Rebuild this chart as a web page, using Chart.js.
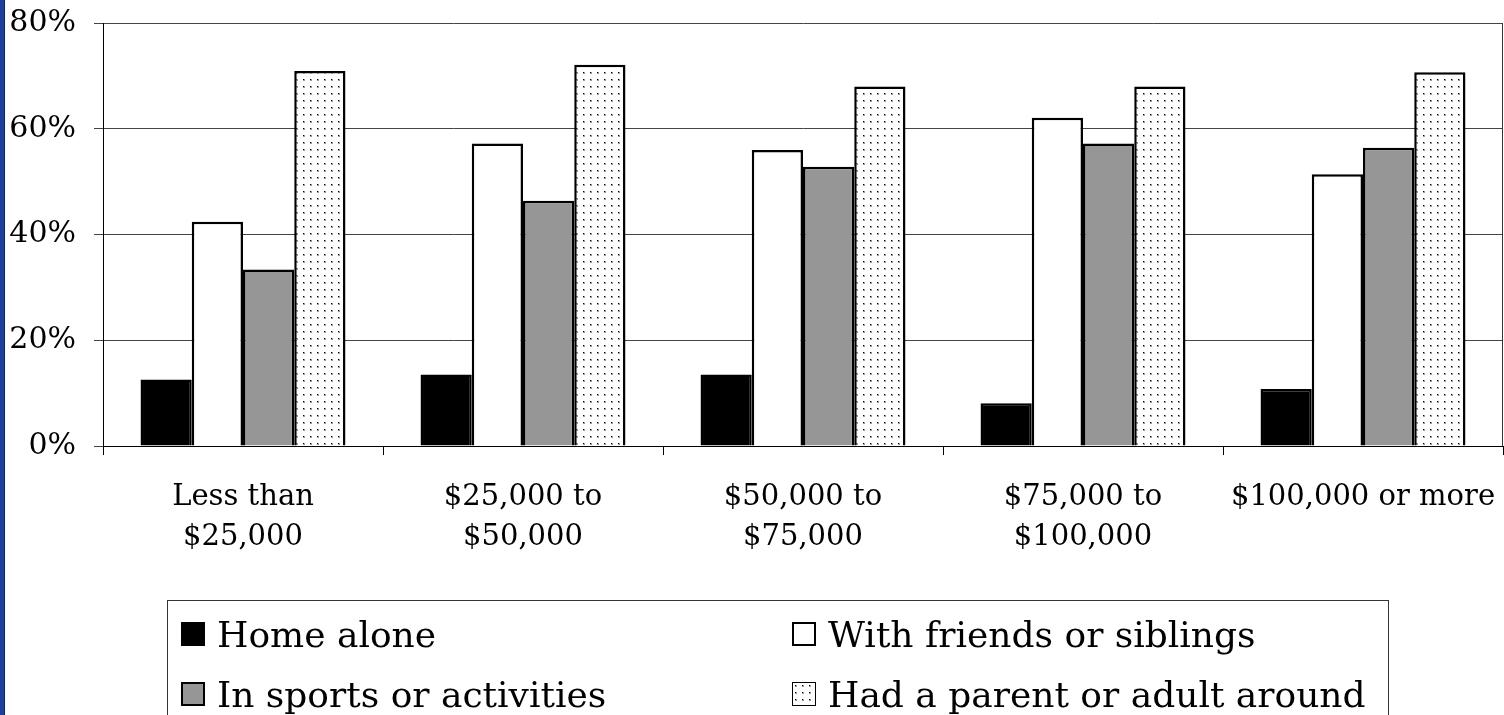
<!DOCTYPE html>
<html>
<head>
<meta charset="utf-8">
<script src="https://cdn.jsdelivr.net/npm/chart.js@4/dist/chart.umd.min.js"></script>
<style>
  html, body { margin: 0; padding: 0; background: #fff; }
  #wrap { position: relative; width: 1504px; height: 715px; overflow: hidden; }
  #edge { position: absolute; left: 0; top: 0; width: 4px; height: 715px; background: #1d3f9e; border-right: 1px solid #0c2370; }
  #legend {
    position: absolute; left: 167px; top: 600px; width: 1222px; height: 140px;
    border: 1px solid #333; box-sizing: border-box;
    font-family: "DejaVu Serif", serif; font-size: 36px; color: #000;
  }
  .item { position: absolute; display: flex; align-items: center; height: 40px; white-space: nowrap; }
  .sw { width: 24px; height: 24px; border: 2px solid #000; box-sizing: border-box; margin-right: 12px; }
</style>
</head>
<body>
<div id="wrap">
  <canvas id="grafico" width="1504" height="715"></canvas>
  <div id="legend"></div>
  <div id="edge"></div>
</div>
<script>
// categorias y valores
const categorias = [
    ['Less than', '$25,000'],
    ['$25,000 to', '$50,000'],
    ['$50,000 to', '$75,000'],
    ['$75,000 to', '$100,000'],
    '$100,000 or more'
];
const series = ['Home alone', 'With friends or siblings', 'In sports or activities', 'Had a parent or adult around'];
const homeAlone   = [12.6, 13.5, 13.5, 8.1, 10.8];
const withFriends = [42.4, 57.2, 56.0, 62.1, 51.4];
const inSports    = [33.4, 46.4, 52.8, 57.2, 56.4];
const hadParent   = [70.9, 72.1, 68.0, 68.0, 70.7];
const yTicks = [0, 20, 40, 60, 80];

// patron de puntos para la ultima serie
const pCanvas = document.createElement('canvas');
pCanvas.width = 7; pCanvas.height = 7;
const pctx = pCanvas.getContext('2d');
pctx.fillStyle = '#fff';
pctx.fillRect(0, 0, 7, 7);
pctx.fillStyle = '#999';
pctx.fillRect(2, 2, 2, 2);
pctx.fillStyle = '#000';
pctx.fillRect(2, 2, 1, 1);
const ctx = document.getElementById('grafico').getContext('2d');
const puntos = ctx.createPattern(pCanvas, 'repeat');

const colores = ['#000000', '#ffffff', '#969696', puntos];
const valores = [homeAlone, withFriends, inSports, hadParent];

const fuente = '"DejaVu Serif", serif';

// marco del area del grafico (lado derecho)
const marco = {
    id: 'marco',
    afterDraw(chart) {
        const a = chart.chartArea, c = chart.ctx;
        c.save();
        c.strokeStyle = '#333';
        c.lineWidth = 1;
        c.beginPath();
        c.moveTo(a.right - 0.5, a.top);
        c.lineTo(a.right - 0.5, a.bottom);
        c.stroke();
        c.restore();
    }
};

const grafico = new Chart(ctx, {
    type: 'bar',
    data: {
        labels: categorias,
        datasets: series.map((nombre, i) => ({
            label: nombre,
            data: valores[i],
            backgroundColor: colores[i],
            borderColor: '#000',
            borderWidth: 2.5,
            barPercentage: 1,
            categoryPercentage: 0.732
        }))
    },
    options: {
        responsive: false,
        animation: false,
        layout: { padding: { top: 23, right: 1, left: 0, bottom: 0 } },
        plugins: {
            legend: { display: false },
            tooltip: { enabled: false }
        },
        scales: {
            x: {
                offset: true,
                grid: { offset: true, drawOnChartArea: false, drawTicks: true, tickLength: 9, color: '#000' },
                border: { color: '#000', width: 1 },
                ticks: { color: '#000', padding: 22, maxRotation: 0, autoSkip: false, font: { family: fuente, size: 29, lineHeight: 1.38 } },
                afterFit: function (scale) {
                    scale.height = 715 - 446;
                    scale.paddingLeft = 0;
                    scale.paddingRight = 0;
                }
            },
            y: {
                min: 0,
                max: 80,
                afterBuildTicks: function (scale) { scale.ticks = yTicks.map(v => ({ value: v })); },
                grid: { color: '#444', tickLength: 9, drawTicks: true },
                border: { color: '#000', width: 1 },
                ticks: { color: '#000', padding: 18, font: { family: fuente, size: 30 }, callback: v => v + '%' },
                afterFit: function (scale) {
                    scale.width = 103;
                    scale.paddingTop = 0;
                    scale.paddingBottom = 0;
                }
            }
        }
    },
    plugins: [marco]
});

// leyenda en html con dos columnas
const leyenda = document.getElementById('legend');
const posiciones = [[13, 13], [624, 13], [13, 73], [624, 73]];
series.forEach((nombre, i) => {
    const item = document.createElement('div');
    item.className = 'item';
    item.style.left = posiciones[i][0] + 'px';
    item.style.top = posiciones[i][1] + 'px';
    const sw = document.createElement('div');
    sw.className = 'sw';
    if (i === 3) {
        sw.style.backgroundImage = 'url(' + pCanvas.toDataURL() + ')';
        sw.style.borderWidth = '1px';
    } else {
        sw.style.background = colores[i];
    }
    item.appendChild(sw);
    const txt = document.createElement('span');
    txt.textContent = nombre;
    item.appendChild(txt);
    leyenda.appendChild(item);
});
</script>
</body>
</html>
